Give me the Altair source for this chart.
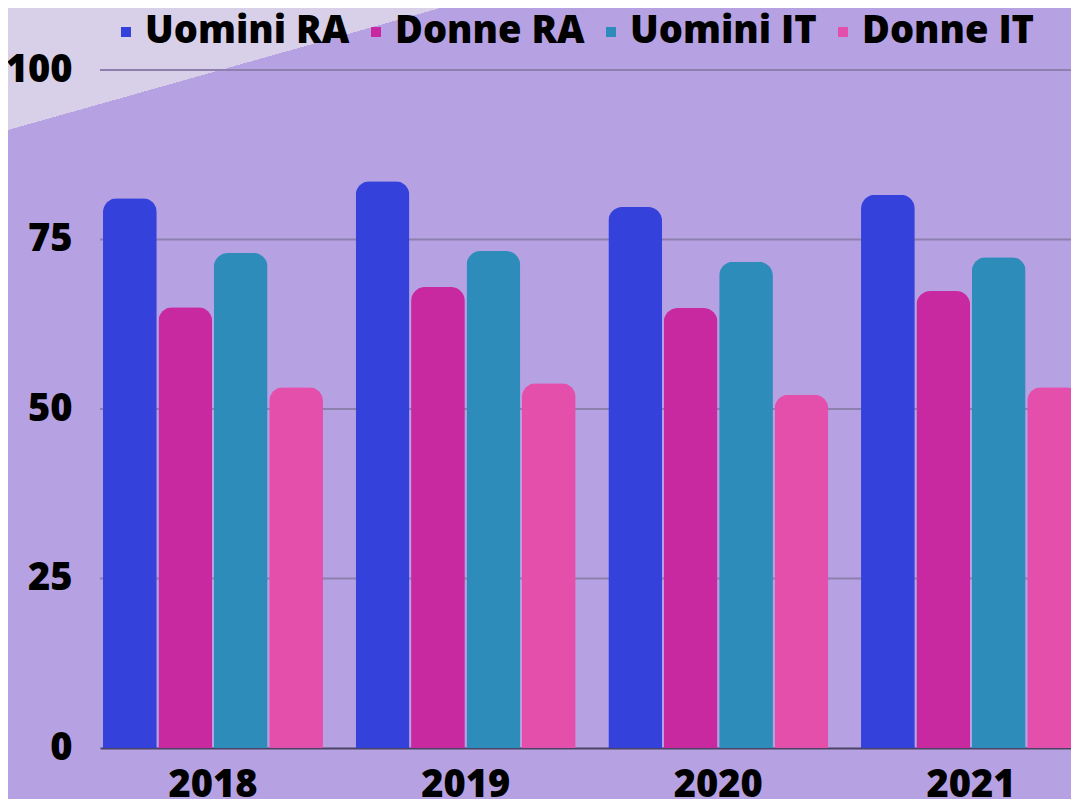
import altair as alt
import pandas as pd

years = ["2018", "2019", "2020", "2021"]
series = ["Uomini RA", "Donne RA", "Uomini IT", "Donne IT"]
uomini_ra = [81.1, 83.6, 79.8, 81.6]
donne_ra = [65.0, 68.0, 64.9, 67.4]
uomini_it = [73.0, 73.3, 71.7, 72.4]
donne_it = [53.2, 53.8, 52.1, 53.2]
colors = ["#3442db", "#c929a0", "#2e8cba", "#e44fab"]
y_ticks = [0, 25, 50, 75, 100]
grid_values = [25, 50, 75, 100]

BG = "#b6a2e3"
LIGHT = "#d8d0e9"
CLEAR = "rgba(182,162,227,0)"
FONT = "Open Sans"
W_TEXT = 800

rows = []
for s, vals in zip(series, [uomini_ra, donne_ra, uomini_it, donne_it]):
    for yr, v in zip(years, vals):
        rows.append({"year": yr, "series": s, "value": v})
df = pd.DataFrame(rows)

# decorative light triangle in the top-left corner (gradient with a hard stop)
tri = alt.Chart(pd.DataFrame({"k": [0]})).mark_rect(
    fill=alt.Gradient(
        gradient="linear",
        stops=[
            alt.GradientStop(color=LIGHT, offset=0),
            alt.GradientStop(color=LIGHT, offset=0.5),
            alt.GradientStop(color=CLEAR, offset=0.5),
            alt.GradientStop(color=CLEAR, offset=1),
        ],
        x1=0, y1=0, x2=1, y2=1,
    ),
    strokeWidth=0,
).encode(
    x=alt.value(-92), x2=alt.value(340), y=alt.value(-62), y2=alt.value(60)
)

grid = alt.Chart(pd.DataFrame({"v": grid_values})).mark_rule(
    color="#8e80ad", strokeWidth=1.8
).encode(y=alt.Y("v:Q", scale=alt.Scale(domain=[0, 100])))

bars = alt.Chart(df).mark_bar(
    cornerRadiusTopLeft=14, cornerRadiusTopRight=14
).encode(
    x=alt.X(
        "year:N",
        sort=years,
        scale=alt.Scale(paddingInner=0.1294, paddingOuter=0.0119, range=[0, 984]),
        axis=alt.Axis(
            title=None, labelAngle=0, ticks=False, domain=True,
            domainColor="#4b4363", domainWidth=2,
            labelFont=FONT, labelFontSize=38, labelFontWeight=W_TEXT,
            labelColor="black", labelPadding=18,
        ),
    ),
    xOffset=alt.XOffset("series:N", sort=series, scale=alt.Scale(paddingInner=0.03)),
    y=alt.Y(
        "value:Q",
        scale=alt.Scale(domain=[0, 100]),
        axis=alt.Axis(
            title=None, values=y_ticks, grid=False, ticks=False, domain=False,
            labelFont=FONT, labelFontSize=38, labelFontWeight=W_TEXT,
            labelColor="black", labelPadding=28, zindex=1,
        ),
    ),
    color=alt.Color(
        "series:N",
        sort=series,
        scale=alt.Scale(domain=series, range=colors),
        legend=alt.Legend(
            orient="none", legendX=7, legendY=-57, direction="horizontal",
            title=None, symbolType="square", symbolSize=100, symbolStrokeWidth=0,
            labelFont=FONT, labelFontSize=38, labelFontWeight=W_TEXT,
            labelColor="black", labelLimit=400, columnPadding=7,
            labelOffset=0, padding=0,
        ),
    ),
)

chart = alt.layer(tri, grid, bars).properties(
    width=971,
    height=678,
    background=BG,
    padding={"left": 92, "top": 62, "right": 0, "bottom": 51},
    autosize=alt.AutoSizeParams(type="none"),
).configure_view(stroke=None)

chart.save("out.html", embed_options={"renderer": "svg", "actions": False})
